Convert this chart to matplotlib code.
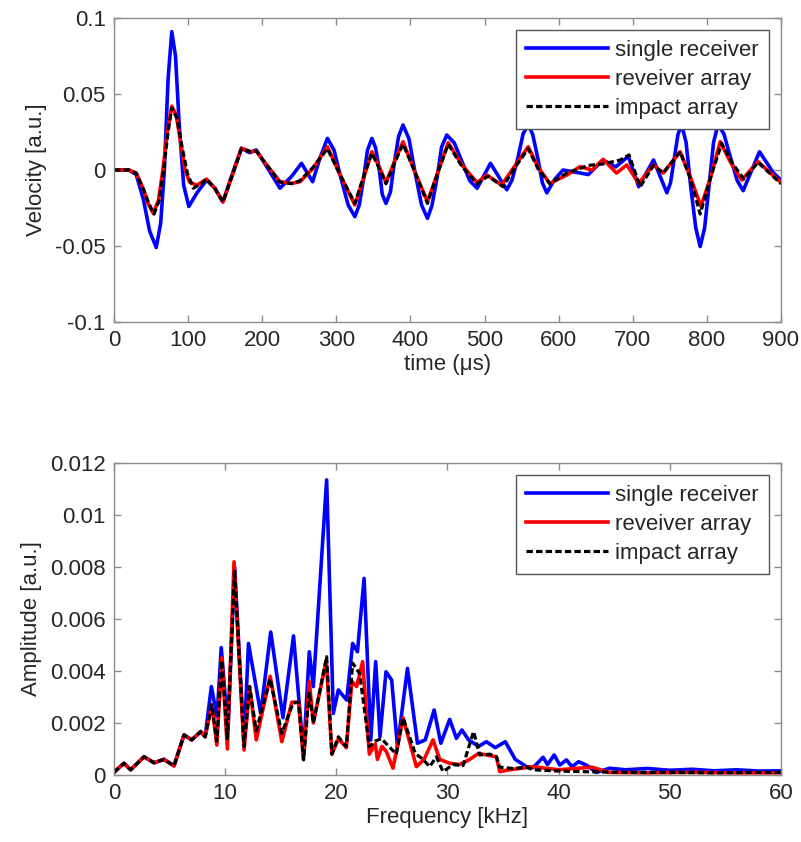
import matplotlib
matplotlib.use("Agg")
import matplotlib.pyplot as plt

plt.rcParams['font.family'] = ['Liberation Sans', 'DejaVu Sans']
plt.rcParams['font.size'] = 16
plt.rcParams['lines.solid_joinstyle'] = 'round'
plt.rcParams['lines.dash_joinstyle'] = 'round'

labels = ['single receiver', 'reveiver array', 'impact array']

# --- time domain (top) ---
t_single = [0, 20, 30, 40, 48, 57, 63, 68, 73, 78, 83, 88, 94, 101, 112, 125, 136, 147, 160, 172,
            183, 192, 205, 224, 240, 253, 268, 278, 288, 297, 306, 316, 325, 331, 337, 342, 348, 353, 358, 362,
            367, 373, 378, 384, 390, 398, 406, 415, 423, 429, 436, 442, 449, 459, 470, 480, 490, 508, 530, 537,
            545, 552, 559, 565, 572, 578, 584, 595, 606, 629, 640, 660, 677, 694, 708, 728, 746, 751, 756, 761,
            766, 772, 778, 785, 791, 797, 803, 809, 815, 823, 832, 841, 849, 871, 890, 900]
v_single = [0, 0, -0.003, -0.02, -0.04, -0.051, -0.035, 0.0, 0.06, 0.091, 0.075, 0.03, -0.01, -0.024, -0.015, -0.0066, -0.012, -0.021, -0.002, 0.0143,
            0.0114, 0.0132, 0.003, -0.012, -0.004, 0.0044, -0.0077, 0.008, 0.0208, 0.013, -0.005, -0.023, -0.0307, -0.023, -0.005, 0.013, 0.0208, 0.0146, 0.0, -0.016,
            -0.022, -0.0145, 0.004, 0.022, 0.0296, 0.0206, -0.001, -0.023, -0.0318, -0.0235, -0.005, 0.015, 0.023, 0.018, 0.005, -0.007, -0.012, 0.0044, -0.013, -0.0067,
            0.008, 0.0237, 0.03, 0.0234, 0.0075, -0.0084, -0.015, -0.006, 0.0, -0.002, -0.003, 0.0066, 0.002, 0.009, -0.011, 0.0066, -0.015, -0.0084, 0.0075, 0.0234,
            0.03, 0.018, -0.01, -0.038, -0.0504, -0.038, -0.01, 0.018, 0.03, 0.0237, 0.008, -0.007, -0.0136, 0.012, -0.002, -0.0066]

t_recv = [0, 20, 30, 40, 46, 53, 60, 66, 72, 78, 84, 90, 96, 102, 112, 125, 136, 147, 160, 172,
          185, 192, 205, 224, 240, 251, 269, 288, 305, 325, 337, 348, 358, 367, 378, 390, 405, 423, 436, 451,
          470, 490, 503, 523, 540, 559, 572, 588, 611, 629, 645, 660, 678, 692, 708, 728, 741, 764, 778, 792,
          805, 818, 832, 847, 869, 900]
v_recv = [0, 0, -0.002, -0.013, -0.022, -0.0285, -0.02, 0.0, 0.025, 0.042, 0.036, 0.018, 0.0, -0.008, -0.01, -0.006, -0.012, -0.021, -0.003, 0.0143,
          0.012, 0.0125, 0.004, -0.0077, -0.0088, -0.0077, 0.0013, 0.0153, -0.003, -0.023, -0.005, 0.012, 0.002, -0.0083, 0.005, 0.0186, 0.0, -0.0208, -0.003, 0.018,
          0.003, -0.0083, -0.0033, -0.0099, 0.002, 0.0153, 0.002, -0.0088, -0.0033, 0.0022, 0.0, 0.007, -0.002, 0.0033, -0.0088, 0.0033, -0.002, 0.012, -0.005, -0.024,
          -0.005, 0.0186, 0.005, -0.0066, 0.0055, -0.0083]

t_impact = [0, 20, 30, 40, 47, 54, 61, 67, 73, 78, 85, 92, 99, 107, 118, 125, 136, 147, 160, 172,
            185, 192, 205, 224, 240, 251, 269, 288, 305, 325, 337, 348, 358, 367, 378, 390, 405, 423, 436, 451,
            470, 490, 505, 525, 540, 559, 572, 588, 611, 640, 660, 683, 695, 710, 728, 741, 764, 778, 791, 805,
            820, 835, 850, 869, 900]
v_impact = [0, 0, -0.002, -0.013, -0.022, -0.029, -0.02, 0.0, 0.025, 0.041, 0.034, 0.015, -0.002, -0.012, -0.009, -0.006, -0.012, -0.021, -0.003, 0.014,
            0.012, 0.0125, 0.004, -0.008, -0.009, -0.007, 0.002, 0.014, -0.003, -0.022, -0.004, 0.011, 0.001, -0.009, 0.004, 0.017, 0.0, -0.022, -0.003, 0.017,
            0.002, -0.009, -0.004, -0.011, 0.001, 0.014, 0.001, -0.009, -0.002, 0.003, 0.004, 0.0066, 0.0099, -0.011, 0.003, -0.002, 0.012, -0.006, -0.029, -0.005,
            0.0175, 0.004, -0.006, 0.005, -0.009]

t_ticks = [0, 100, 200, 300, 400, 500, 600, 700, 800, 900]
v_ticks = [-0.1, -0.05, 0, 0.05, 0.1]
v_ticklabels = ['-0.1', '-0.05', '0', '0.05', '0.1']

# --- frequency domain (bottom) ---
f_single = [0, 0.5, 0.9, 1.5, 2.7, 3.6, 4.5, 5.4, 6.3, 7.0, 7.8, 8.2, 8.76, 9.27, 9.65, 10.25, 10.85, 11.7, 12.1, 13.2,
            14.1, 15.2, 16.15, 17.05, 17.57, 17.93, 19.13, 19.73, 20.18, 20.93, 21.47, 21.9, 22.5, 23.1, 23.54, 23.93, 24.47, 24.98, 25.5, 26.4,
            27.3, 28.0, 28.8, 29.4, 30.2, 30.8, 31.3, 31.9, 32.8, 33.5, 34.3, 35.2, 36.1, 37.1, 37.7, 38.6, 39.0, 39.6, 40.1, 40.7,
            41.2, 41.8, 42.5, 43.4, 44.6, 46, 48, 50, 52, 54, 56, 58, 60]
a_single = [0.0001, 0.0003, 0.00045, 0.0002, 0.0007, 0.00047, 0.0006, 0.00035, 0.00154, 0.00135, 0.00167, 0.00147, 0.0034, 0.00224, 0.0049, 0.0017, 0.008, 0.0012, 0.00506, 0.00236,
            0.0055, 0.0022, 0.00535, 0.0008, 0.00474, 0.0034, 0.01135, 0.00237, 0.00327, 0.00288, 0.00506, 0.00474, 0.00756, 0.00135, 0.00436, 0.00147, 0.00397, 0.00365, 0.00109, 0.0041,
            0.00122, 0.00135, 0.0025, 0.00122, 0.00214, 0.00141, 0.00173, 0.00135, 0.0011, 0.00128, 0.00105, 0.00128, 0.0006, 0.00032, 0.00028, 0.00068, 0.0004, 0.00077, 0.00038, 0.00058,
            0.00032, 0.00051, 0.00038, 0.0001, 0.00026, 0.0002, 0.00025, 0.00018, 0.00022, 0.00016, 0.0002, 0.00015, 0.00016]

f_recv = [0, 0.5, 0.9, 1.5, 2.7, 3.6, 4.5, 5.4, 6.3, 7.0, 7.8, 8.2, 8.8, 9.25, 9.7, 10.2, 10.8, 11.7, 12.2, 12.8,
          14.05, 15.1, 16.0, 16.6, 17.05, 17.57, 17.93, 19.1, 19.6, 20.2, 20.9, 21.4, 21.83, 22.37, 22.97, 23.5, 23.7, 24.1, 24.5, 25.1,
          26.0, 27.2, 27.9, 28.7, 29.3, 30.2, 31.1, 32.0, 32.8, 33.5, 34.4, 34.7, 35.6, 37.7, 40, 43, 44.5, 48, 52, 56, 60]
a_recv = [0.0001, 0.0003, 0.00045, 0.0002, 0.0007, 0.00047, 0.0006, 0.00035, 0.00154, 0.00135, 0.00167, 0.00147, 0.0027, 0.00115, 0.0045, 0.001, 0.0082, 0.00096, 0.0034, 0.00135,
          0.0038, 0.00128, 0.0028, 0.0028, 0.0006, 0.00359, 0.002, 0.0044, 0.0008, 0.0014, 0.00105, 0.0036, 0.0034, 0.00436, 0.0008, 0.0012, 0.0006, 0.0011, 0.0009, 0.00026,
          0.0022, 0.00032, 0.0006, 0.00135, 0.0006, 0.00045, 0.0004, 0.0006, 0.00083, 0.00077, 0.0007, 0.00013, 0.0002, 0.00032, 0.0002, 0.0003, 0.0001, 0.00008, 0.0001, 0.00008, 0.00008]

f_impact = [0, 0.5, 0.9, 1.5, 2.7, 3.6, 4.5, 5.4, 6.3, 7.0, 7.8, 8.2, 8.8, 9.25, 9.7, 10.2, 10.85, 11.7, 12.2, 12.8,
            14.05, 15.1, 16.1, 16.6, 17.05, 17.57, 17.93, 19.13, 19.6, 20.18, 20.9, 21.47, 22.1, 22.97, 23.5, 24.06, 24.5, 25.4, 26.0, 27.1,
            27.8, 28.4, 29.0, 29.6, 30.5, 31.4, 32.35, 32.9, 33.8, 34.4, 34.7, 35.9, 37.1, 37.7, 40, 43, 46, 50, 54, 58, 60]
a_impact = [0.0001, 0.0003, 0.00045, 0.0002, 0.0007, 0.00047, 0.0006, 0.00035, 0.00154, 0.00135, 0.00167, 0.00147, 0.0027, 0.0013, 0.0044, 0.0014, 0.0079, 0.0011, 0.0034, 0.0017,
            0.0037, 0.0016, 0.00276, 0.0028, 0.00058, 0.0032, 0.002, 0.00455, 0.0008, 0.00147, 0.00109, 0.0043, 0.0039, 0.00109, 0.0013, 0.0014, 0.0012, 0.0008, 0.0022, 0.00083,
            0.0006, 0.00032, 0.0007, 0.00013, 0.0004, 0.00036, 0.00167, 0.00077, 0.0008, 0.0007, 0.0003, 0.00025, 0.0003, 0.0002, 0.00015, 0.00012, 0.0001, 0.0001, 0.00008, 0.0001, 0.0001]

f_ticks = [0, 10, 20, 30, 40, 50, 60]
a_ticks = [0, 0.002, 0.004, 0.006, 0.008, 0.01, 0.012]
a_ticklabels = ['0', '0.002', '0.004', '0.006', '0.008', '0.01', '0.012']

text_col = '#262626'
frame_col = '#8c8c8c'


def style(ax):
    for s in ax.spines.values():
        s.set_color(frame_col)
        s.set_linewidth(1.0)
    ax.tick_params(direction='in', length=5, width=1, color=frame_col, labelcolor=text_col,
                   top=True, right=True, labelsize=16, pad=6)


def add_legend(ax):
    leg = ax.legend(loc='upper right', fancybox=False, framealpha=1, edgecolor='#555555',
                    handlelength=3.7, handletextpad=0.3, labelspacing=0.35, borderpad=0.45,
                    borderaxespad=0.55, fontsize=16)
    leg.get_frame().set_linewidth(1.0)
    for txt in leg.get_texts():
        txt.set_color(text_col)


fig = plt.figure(figsize=(8.01, 8.42), dpi=100)

ax1 = fig.add_axes([0.1423, 0.6176, 0.8327, 0.3610])
ax1.plot(t_single, v_single, color='#0000ff', lw=2.6, label=labels[0])
ax1.plot(t_recv, v_recv, color='#ff0000', lw=2.6, label=labels[1])
ax1.plot(t_impact, v_impact, color='black', lw=2.3, ls=(0, (2, 1)), label=labels[2])
ax1.set_xlim(0, 900)
ax1.set_ylim(-0.1, 0.1)
ax1.set_xticks(t_ticks)
ax1.set_yticks(v_ticks)
ax1.set_yticklabels(v_ticklabels)
ax1.set_xlabel('time (μs)', color=text_col, labelpad=2)
ax1.set_ylabel('Velocity [a.u.]', color=text_col, labelpad=6)
style(ax1)
add_legend(ax1)

ax2 = fig.add_axes([0.1423, 0.0796, 0.8327, 0.3705])
ax2.plot(f_single, a_single, color='#0000ff', lw=2.6, label=labels[0])
ax2.plot(f_recv, a_recv, color='#ff0000', lw=2.6, label=labels[1])
ax2.plot(f_impact, a_impact, color='black', lw=2.3, ls=(0, (2, 1)), label=labels[2])
ax2.set_xlim(0, 60)
ax2.set_ylim(0, 0.012)
ax2.set_xticks(f_ticks)
ax2.set_yticks(a_ticks)
ax2.set_yticklabels(a_ticklabels)
ax2.set_xlabel('Frequency [kHz]', color=text_col, labelpad=2)
ax2.set_ylabel('Amplitude [a.u.]', color=text_col, labelpad=6)
style(ax2)
add_legend(ax2)

fig.savefig('out.png', dpi=100)
